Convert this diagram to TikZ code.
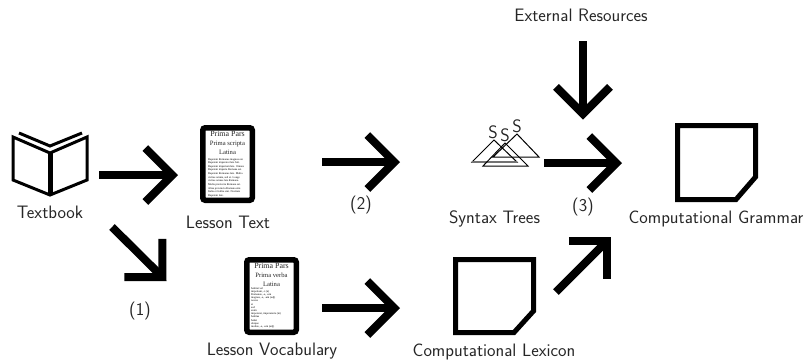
\documentclass[tikz,border=0pt]{standalone}
\usepackage{fontspec}
\newfontfamily\tabfont{Liberation Serif}
\usetikzlibrary{arrows.meta,calc}
\tikzset{
 x=1pt,y=-1pt,
 bigarrow/.style={line width=8pt,-{Straight Barb[length=27pt,width=54pt,line width=8pt]}},
 lab/.style={font=\sffamily\fontsize{18}{20}\selectfont,inner sep=0pt,text=black!85},
 tablet/.style={draw=black,fill=white,line width=5.5pt,rounded corners=2.5pt,inner sep=0pt,minimum width=49.5pt,minimum height=72.5pt},
 tabtitle/.style={font=\tabfont\fontsize{7.9}{8}\selectfont,text=black!85,inner sep=0pt},
 tabsub/.style={font=\tabfont\fontsize{6.6}{8}\selectfont,text=black!85,inner sep=0pt},
 tabbody/.style={align=left,font=\tabfont\fontsize{2.8}{3.5}\selectfont,inner sep=0pt,anchor=north west},
 tri/.style={draw=black,line width=1pt,line join=miter},
 pagebox/.style={draw=black,line width=5pt,line join=miter},
 ghost/.style={inner sep=0pt,minimum width=80pt,minimum height=75pt},
}
\begin{document}
\begin{tikzpicture}
\useasboundingbox (0,0) rectangle (809,360);
% book
\node[ghost] (book) at (50,164) {};
\draw[black,line width=3pt,line join=miter] (13,137) -- (50,153) -- (87,137) -- (87,180) -- (50,195) -- (13,180) -- cycle;
\draw[black,line width=5pt] (50,152) -- (50,195);
\draw[black,line width=3pt,line join=miter] (19,133) -- (50,146) -- (82,133);
\node[lab] (t1) at (50,212) {Textbook};
% tablet 1
\node[tablet] (text) at (227.5,164) {};
\node[tabtitle] at (227.5,134) {Prima Pars};
\node[tabsub] at (227.5,144) {Prima scripta};
\node[tabsub] at (227.5,152.5) {Latina};
\node[tabbody] at (208,158) {Bapetem Romanus magnus est.\\Bapetem imperator late fuit.\\Bapetem imperium late. Omnes\\Bapetem imperia Romana est.\\[0.6pt]Bapetem Romanus late. Multa\\civitas omnia, sed et. Longe\\civitas omnes late Romana.\\Multa provincia Romana est.\\[0.6pt]Alios provincia Romana sint.\\Italia et Gallia sint. Novitate\\Bapetem late.};
\node[lab] (t2) at (228,222) {Lesson Text};
% tablet 2
\node[tablet] (vocab) at (271.5,296) {};
\node[tabtitle] at (271.5,266) {Prima Pars};
\node[tabsub] at (271.5,275) {Prima verba};
\node[tabsub] at (271.5,284) {Latina};
\node[tabbody,font=\tabfont\fontsize{2.8}{3.2}\selectfont] at (251,287) {habitat vel\\imperium, -i (n)\\Romanus, -a, -um\\magnus, -a, -um (adj)\\novus\\et\\sed\\enim\\imperator, imperatoris (m)\\habitus\\habet\\ubique\\multus, -a, -um (adj)};
\node[lab] (t3) at (272,351) {Lesson Vocabulary};
% trees
\node[inner sep=0pt,minimum width=67pt,minimum height=32pt] (trees) at (505,150) {};
\draw[tri] (472,162) -- (494,140) -- (517,162) -- cycle;
\draw[black!55,line width=1.6pt] (472,162) -- (517,162);
\draw[tri] (483,166) -- (505,143) -- (528,166) -- cycle;
\draw[tri] (493,157) -- (517,134) -- (539,157) -- cycle;
\node[lab] at (493,132) {S};
\node[lab] at (505,135) {S};
\node[lab] at (517,126) {S};
\node[lab] (t4) at (494.5,219) {Syntax Trees};
% pages
\node[inner sep=0pt,minimum width=78pt,minimum height=73pt] (lexicon) at (494.5,296) {};
\draw[pagebox] (455.5,259.5) -- (533.5,259.5) -- (533.5,311) -- (514,332.5) -- (455.5,332.5) -- cycle;
\node[lab] (t5) at (494,352) {Computational Lexicon};
\node[inner sep=0pt,minimum width=78pt,minimum height=73pt] (grammar) at (716.5,162.5) {};
\draw[pagebox] (677.5,125.5) -- (755.5,125.5) -- (755.5,177) -- (736,199.5) -- (677.5,199.5) -- cycle;
\node[lab] (t6) at (716,219) {Computational Grammar};
\node[lab] (t7) at (581,15) {External Resources};
\node[lab] (l1) at (140,311) {(1)};
\node[lab] (l2) at (361,205) {(2)};
\node[lab] (l3) at (583,207) {(3)};
% arrows
\draw[bigarrow] ($(book)+(49,11)$) -- ($(text)+(-49.5,11)$);
\draw[bigarrow] ($(book)+(62,63)$) -- ($(vocab)+(-105,-15)$);
\draw[bigarrow] ($(text)+(94.5,-2)$) -- ($(trees)+(-105,12)$);
\draw[bigarrow] ($(trees)+(39,13)$) -- ($(grammar)+(-94.5,0.5)$);
\draw[bigarrow] ($(t7)+(2,26)$) -- ($(grammar)+(-133.5,-43)$);
\draw[bigarrow] ($(vocab)+(50.5,12)$) -- ($(lexicon)+(-94.5,12)$);
\draw[bigarrow] ($(lexicon)+(61.5,-4)$) -- ($(grammar)+(-105.5,74.5)$);
\end{tikzpicture}
\end{document}
